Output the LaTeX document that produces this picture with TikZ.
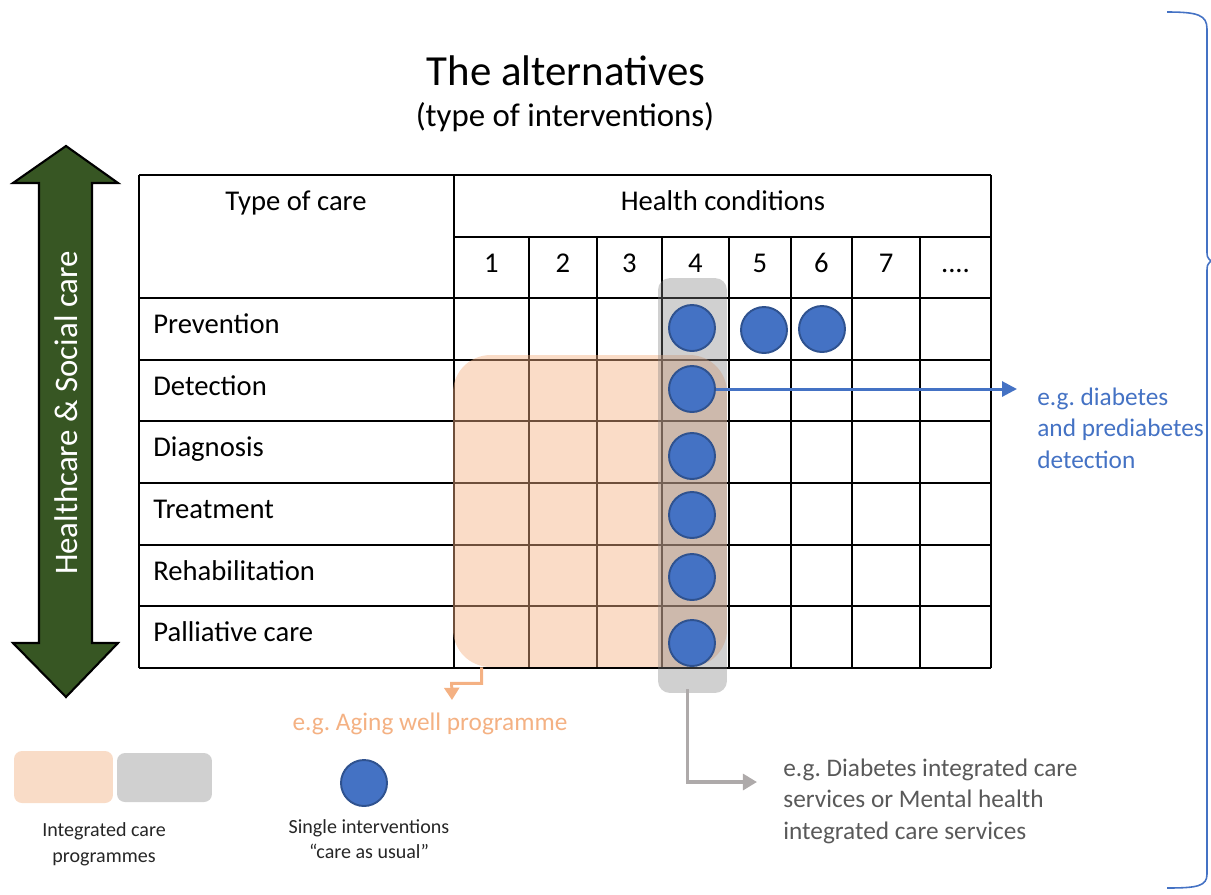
\documentclass[tikz,border=0pt]{standalone}
\usepackage{fontspec}
\setmainfont{Carlito}
\frenchspacing
\usetikzlibrary{arrows.meta,calc}
\definecolor{cblue}{HTML}{4472C4}
\definecolor{cblueD}{HTML}{2F528F}
\definecolor{corange}{HTML}{F4B183}
\definecolor{cgreen}{HTML}{375623}
\definecolor{cgraytxt}{HTML}{595959}
\definecolor{carrowgray}{HTML}{AEAAAA}
\definecolor{legorange}{HTML}{F9DCC7}
\definecolor{leggray}{HTML}{D0D0D0}
\definecolor{boxgray}{HTML}{7F7F7F}
\begin{document}
\begin{tikzpicture}[x=0.02cm,y=-0.02cm,
  tableline/.style={line width=1.2pt, black},
  dot/.style={circle, fill=cblue, draw=cblueD, line width=1.1pt, minimum size=0.92cm, inner sep=0pt},
  celltext/.style={font=\fontsize{16.3}{19}\selectfont, inner sep=0pt, anchor=base},
  rowlabel/.style={celltext, anchor=base west},
  note/.style={font=\fontsize{14.4}{17}\selectfont, inner sep=0pt, anchor=base west},
  legendtext/.style={font=\fontsize{11.4}{14}\selectfont, inner sep=0pt, anchor=base, text=black!85},
  progbox/.style={rectangle, rounded corners=0.75cm, fill=corange, fill opacity=0.45, inner sep=0pt},
  servbox/.style={rectangle, rounded corners=0.24cm, fill=boxgray, fill opacity=0.37, inner sep=0pt},
  connector/.style={line width=1.7pt}
]
\useasboundingbox (0,0) rectangle (1211,894);

% title
\node[font=\fontsize{24.4}{29}\selectfont, inner sep=0pt, anchor=base] (title) at (566,85) {The alternatives};
\node[font=\fontsize{18.7}{22}\selectfont, inner sep=0pt, anchor=base] (subtitle) at (565,126) {(type of interventions)};

% vertical double arrow
\draw[line width=1.2pt, fill=cgreen, line join=miter]
  (66,146) -- (118,183) -- (92,183) -- (92,643) -- (118,643) -- (66,697)
  -- (13,643) -- (39,643) -- (39,183) -- (13,183) -- cycle;
\node[rotate=90, text=white, font=\fontsize{18.7}{22}\selectfont, inner sep=0pt] (hsc) at (66,413) {Healthcare \& Social care};

% table grid
\foreach \y in {175,298,360,421,483,545,606,668}
  \draw[tableline] (139,\y) -- (991,\y);
\draw[tableline] (454,237) -- (991,237);
\foreach \x in {139,454,991}
  \draw[tableline] (\x,175) -- (\x,668);
\foreach \x in {529,597,662,729,791,852,920}
  \draw[tableline] (\x,237) -- (\x,668);

% header texts
\node[celltext] (typecare) at (296,210) {Type of care};
\node[celltext] (healthcond) at (723,210) {Health conditions};
\foreach \n/\x in {1/491.5,2/563,3/629.5,4/695.5,5/760,6/821.5,7/886}
  \node[celltext] (num\n) at (\x,272) {\n};
\node[celltext] (num8) at (955.5,272) {....};

% row labels
\node[rowlabel] (rprev) at (153,333) {Prevention};
\node[rowlabel] (rdet)  at (153,395) {Detection};
\node[rowlabel] (rdiag) at (153,456) {Diagnosis};
\node[rowlabel] (rtreat) at (153,518) {Treatment};
\node[rowlabel] (rrehab) at (153,580) {Rehabilitation};
\node[rowlabel] (rpall) at (153,641) {Palliative care};

% integrated care programme areas
\node[progbox, minimum width=5.48cm, minimum height=6.24cm] (prog) at (590,511) {};
\node[servbox, minimum width=1.38cm, minimum height=8.3cm] (serv) at (692.5,485.5) {};

% single interventions
\node[dot] (cprev4) at (692,328) {};
\node[dot] (cprev5) at (764,330) {};
\node[dot] (cprev6) at (822,329) {};
\node[dot] (cdet)   at (692,389) {};
\node[dot] (cdiag)  at (692,456) {};
\node[dot] (ctreat) at (692,515) {};
\node[dot] (crehab) at (692,577) {};
\node[dot] (cpall)  at (692,643) {};

% blue callout
\coordinate (blueend) at (1017,389);
\draw[connector, cblue, -{Triangle[width=8.5pt,length=8.5pt]}] (cdet.east) -- (blueend);
\node[note, text=cblue] (blue1) at (1037,405) {e.g. diabetes};
\node[note, text=cblue] (blue2) at (1037,436.5) {and prediabetes};
\node[note, text=cblue] (blue3) at (1037,468) {detection};

% orange callout
\coordinate (ageend) at (452,700);
\draw[connector, corange, -{Triangle[width=8.5pt,length=7pt]}]
  ($(prog.south west)+(29,0)$) -- ++(0,16) -- ++(-30,0) -- (ageend);
\node[note, anchor=base, text=corange] (agetxt) at (430,730) {e.g. Aging well programme};

% grey callout
\coordinate (servend) at (757,782);
\draw[line width=2pt, carrowgray, -{Triangle[width=9pt,length=8pt]}]
  ($(serv.south)+(-5,-4)$) |- (servend);
\node[note, text=cgraytxt] (serv1) at (783,776) {e.g. Diabetes integrated care};
\node[note, text=cgraytxt] (serv2) at (783,807.5) {services or Mental health};
\node[note, text=cgraytxt] (serv3) at (783,839) {integrated care services};

% legend
\node[rectangle, rounded corners=0.16cm, fill=legorange, minimum width=1.98cm, minimum height=1.04cm, inner sep=0pt] (legprog) at (63.5,777) {};
\node[rectangle, rounded corners=0.16cm, fill=leggray, minimum width=1.9cm, minimum height=0.98cm, inner sep=0pt] (legserv) at (164.5,777.5) {};
\node[legendtext] (legtxt1) at (104,836) {Integrated care};
\node[legendtext] (legtxt2) at (104,862) {programmes};
\node[dot] (legdot) at (364,783) {};
\node[legendtext] (legtxt3) at (369,833) {Single interventions};
\node[legendtext] (legtxt4) at (369,858) {“care as usual”};

% right brace
\draw[cblue, line width=0.9pt]
  (1167,12) .. controls (1198,12) and (1207,15) .. (1207,29) -- (1207,250)
  .. controls (1207,257) .. (1211,261)
  .. controls (1207,265) .. (1207,273) -- (1207,874)
  .. controls (1207,886) and (1198,888) .. (1167,888);
\end{tikzpicture}
\end{document}
